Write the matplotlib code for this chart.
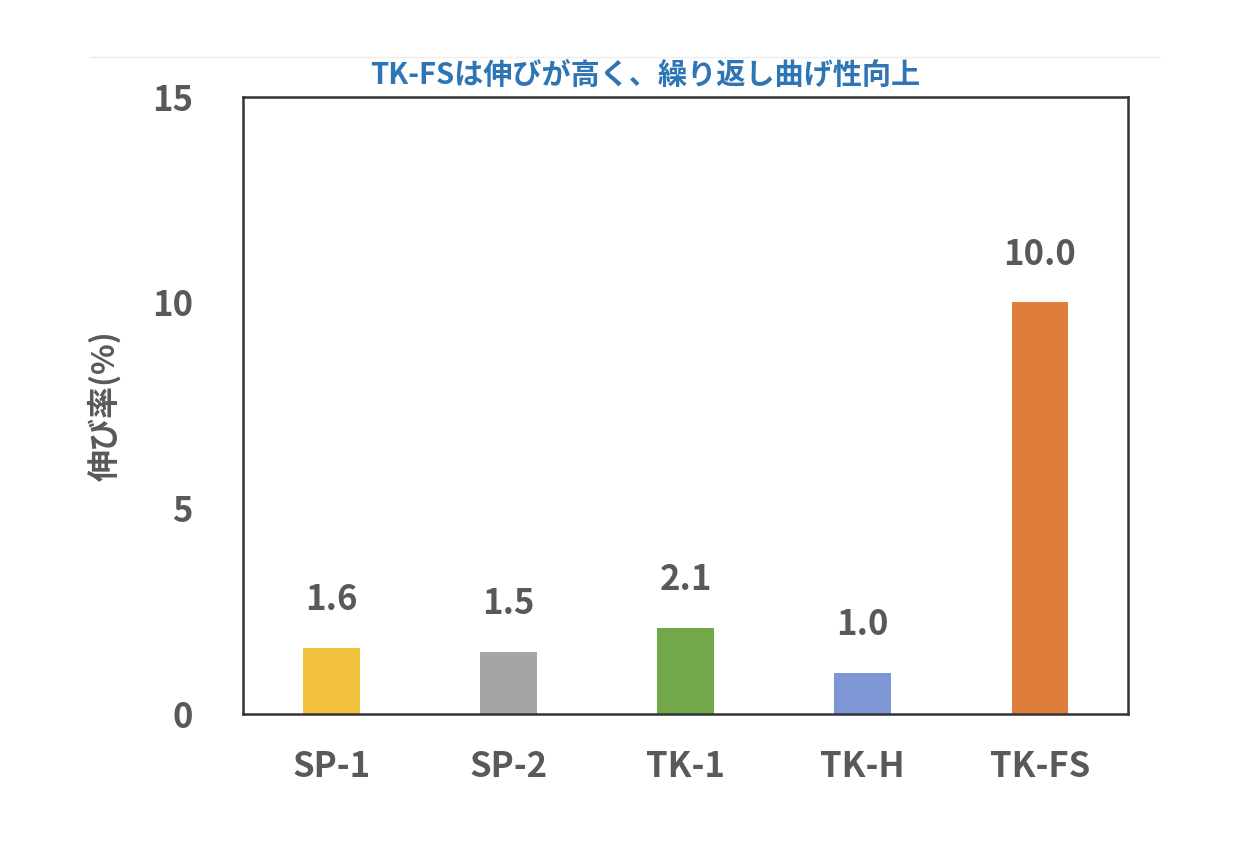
import matplotlib
matplotlib.use('Agg')
import matplotlib.pyplot as plt

plt.rcParams['font.family'] = ['Noto Sans CJK JP', 'DejaVu Sans']

# data
categories = ['SP-1', 'SP-2', 'TK-1', 'TK-H', 'TK-FS']
elongation = [1.6, 1.5, 2.1, 1.0, 10.0]
value_labels = ['1.6', '1.5', '2.1', '1.0', '10.0']
bar_colors = ['#F2C13E', '#A5A5A5', '#72A84A', '#7F96D6', '#DF7E3B']
yticks = [0, 5, 10, 15]

text_gray = '#595959'

fig = plt.figure(figsize=(12.58, 8.41), dpi=100)
ax = fig.add_axes([0.193, 0.151, 0.704, 0.734])

x = range(len(categories))
ax.bar(x, elongation, width=0.32, color=bar_colors)

for xi, v, lab in zip(x, elongation, value_labels):
    ax.text(xi, v + 0.75, lab, ha='center', va='bottom', fontsize=25,
            fontweight='bold', color=text_gray)

ax.set_xlim(-0.5, 4.5)
ax.set_ylim(0, 15)
ax.set_xticks(list(x))
ax.set_xticklabels(categories)
ax.set_yticks(yticks)
ax.tick_params(length=0, labelsize=25, labelcolor=text_gray)
ax.tick_params(axis='x', pad=25)
ax.tick_params(axis='y', pad=36)
for lab in ax.get_xticklabels() + ax.get_yticklabels():
    lab.set_fontweight('bold')

for sp in ax.spines.values():
    sp.set_linewidth(1.8)
    sp.set_color('#333333')

ax.set_ylabel('伸び率(%)', fontsize=23, fontweight='bold', color=text_gray, labelpad=22)

fig.text(645 / 1258, 1 - 75 / 841, 'TK-FSは伸びが高く、繰り返し曲げ性向上', ha='center', va='center',
         fontsize=21, fontweight='bold', color='#2E75B6')

# faint separator line at top
fig.add_artist(plt.Line2D([90 / 1258, 1160 / 1258], [1 - 57 / 841, 1 - 57 / 841],
                          color='#EEEEEE', linewidth=1.0))

fig.savefig('out.png', dpi=100)
